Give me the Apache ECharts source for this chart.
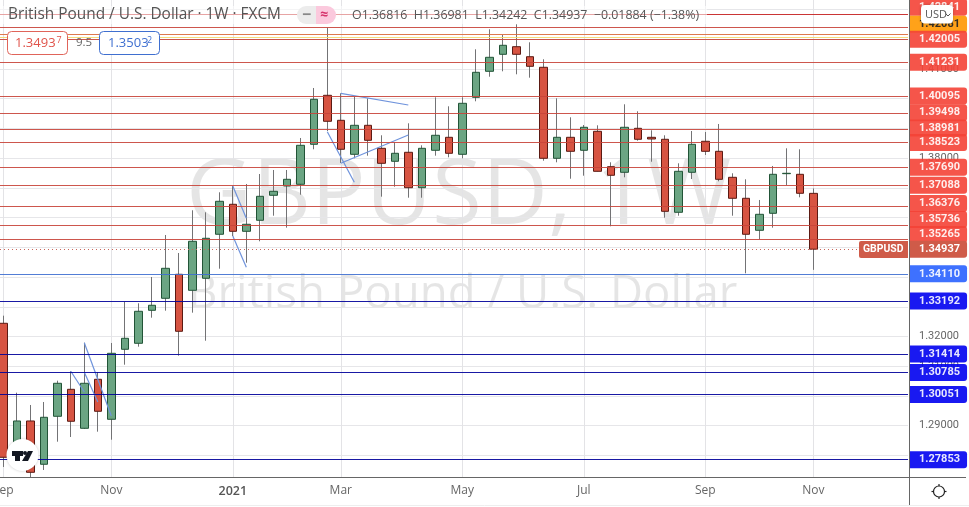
<!DOCTYPE html>
<html><head><meta charset="utf-8">
<style>html,body{margin:0;padding:0;background:#fff;overflow:hidden}#c{width:969px;height:507px}</style>
<script src="https://cdn.jsdelivr.net/npm/echarts@6/dist/echarts.min.js"></script>
</head><body><div id="c"></div>
<script>
const opens = [1.32444,1.27945,1.29157,1.27700,1.29315,1.30223,1.28911,1.30560,1.29214,1.31569,1.31771,1.32881,1.33285,1.34093,1.33554,1.33958,1.35439,1.36448,1.35539,1.35910,1.36751,1.37064,1.37121,1.38467,1.40115,1.39274,1.38130,1.39106,1.38332,1.37895,1.38198,1.37006,1.38265,1.38702,1.38130,1.40048,1.40923,1.41495,1.41751,1.41414,1.41058,1.37996,1.38702,1.38265,1.38904,1.37713,1.37525,1.39005,1.38702,1.38635,1.36179,1.37525,1.38568,1.38231,1.37356,1.36650,1.35573,1.36145,1.37478,1.37457,1.36816];
const closes = [1.27935,1.29157,1.27430,1.29281,1.30425,1.29147,1.30425,1.29483,1.31434,1.31939,1.32848,1.33050,1.34294,1.32175,1.35203,1.35304,1.36549,1.35539,1.35775,1.36717,1.36885,1.37289,1.38433,1.39981,1.39241,1.38299,1.39106,1.38601,1.37827,1.38164,1.37006,1.38332,1.38770,1.38164,1.39846,1.40889,1.41394,1.41798,1.41495,1.41091,1.37996,1.38702,1.38231,1.39039,1.37558,1.37424,1.39039,1.38635,1.38645,1.36212,1.37558,1.38467,1.38231,1.37289,1.36650,1.35439,1.36111,1.37457,1.37491,1.36818,1.34937];
const lows = [1.27609,1.27642,1.27272,1.27508,1.28460,1.28618,1.28890,1.28797,1.28527,1.31051,1.31657,1.32632,1.32868,1.31354,1.32801,1.31858,1.34281,1.35381,1.34483,1.35203,1.36064,1.35661,1.36771,1.38299,1.38914,1.37838,1.37996,1.38083,1.36704,1.37040,1.36670,1.36670,1.38083,1.38029,1.37996,1.39914,1.40741,1.40923,1.40822,1.40708,1.37915,1.37861,1.37309,1.37410,1.37558,1.35708,1.37356,1.38588,1.37881,1.35997,1.36064,1.37299,1.38107,1.37222,1.36064,1.34126,1.35270,1.35661,1.37097,1.36683,1.34242];
const highs = [1.32700,1.30109,1.29695,1.29796,1.30513,1.30829,1.31791,1.30805,1.31781,1.33171,1.33117,1.34002,1.35415,1.34809,1.36246,1.36179,1.36852,1.37064,1.37131,1.37467,1.37602,1.37602,1.38679,1.40361,1.42390,1.40183,1.40068,1.40014,1.38770,1.38534,1.39173,1.38433,1.40048,1.39745,1.40048,1.41663,1.42336,1.42144,1.42504,1.41899,1.41327,1.40014,1.39375,1.39116,1.39106,1.37861,1.39813,1.39577,1.38938,1.38770,1.37827,1.38914,1.38881,1.39150,1.37491,1.37289,1.36593,1.37737,1.38332,1.38299,1.36981];

const xTickLabels = {0:'Sep',8:'Nov',17:'2021',25:'Mar',34:'May',43:'Jul',52:'Sep',60:'Nov'};
const slotCount = 68;
const categories = Array.from({length:slotCount},(_,i)=>new Date(Date.UTC(2020,8,7+7*i)).toISOString().slice(0,10));

const priceTickLabels = ['1.41000','1.38000','1.32000','1.31000','1.29000'];
const redLevels = [1.42403,1.42154,1.42005,1.41231,1.40095,1.39498,1.38981,1.38523,1.37690,1.37088,1.36376,1.35736,1.35265];
const redLabelNudge = [0,0,0,0,0,-1,-1,0,0,0,-3,-6,-5];
const topRedLevel = 1.42841;
const orangeLevel = 1.42081;
const lightBlueLevels = [1.34110];
const navyLevels = [1.33192,1.31414,1.30785,1.30051,1.27853];
const lastPrice = 1.34937;

const trendLines = [
  [[5,1.30829],[6,1.30132]],
  [[6,1.31791],[8,1.29325]],
  [[6,1.30795],[7,1.29796]],
  [[17,1.37064],[18,1.35977]],
  [[17,1.35381],[18,1.34328]],
  [[24,1.38891],[26,1.37188]],
  [[25,1.40183],[30,1.39789]],
  [[25,1.37827],[30,1.38780]]
];

const UP='#6ba583',DOWN='#d75442',UPB='#225437',DOWNB='#5b1a13',WICK='#737375';
const FONT='"Open Sans",sans-serif';
const LABELFONT='Roboto,sans-serif';
const fix=v=>v.toFixed(5);
function lvl(v,bg,lineColor,offsetY,text,txtColor){
  return {yAxis:v,lineStyle:{color:lineColor,width:1,type:'solid',opacity:.9},
    label:{show:true,position:'end',distance:1,formatter:text||fix(v),color:txtColor||'#fff',
      fontFamily:LABELFONT,fontWeight:700,fontSize:11,backgroundColor:bg,
      padding:[2,7,2,10],lineHeight:13,borderRadius:[0,3,3,0],offset:[0,offsetY||0]}};
}
function levelSeries(data,z){
  return {type:'line',xAxisIndex:1,yAxisIndex:1,data:[],silent:true,z:z,
    markLine:{silent:true,symbol:'none',animation:false,precision:5,z:z,data:data}};
}
const RED='#f44336',REDLINE='#c8443a',NAVY='#0000f0',NAVYLINE='#00009a',LB='#2962ff';

const redData = redLevels.map((v,i)=>lvl(v,RED,REDLINE,redLabelNudge[i]));
redData[0].label.show=false;
redData[1].label.show=false;
redData[1].lineStyle.color='#dc6a3a';
const series=[
  {type:'candlestick',xAxisIndex:0,yAxisIndex:0,clip:false,barWidth:1,z:3,silent:true,animation:false,
   itemStyle:{color:WICK,color0:WICK,borderColor:WICK,borderColor0:WICK,borderWidth:1},
   data:opens.map((o,i)=>[o,closes[i],lows[i],highs[i]])},
  {type:'candlestick',xAxisIndex:0,yAxisIndex:0,clip:false,barWidth:8,z:4,silent:true,animation:false,
   itemStyle:{color:UP,color0:DOWN,borderColor:UPB,borderColor0:DOWNB,borderWidth:1},
   data:opens.map((o,i)=>[o,closes[i],Math.min(o,closes[i]),Math.max(o,closes[i])])},
  ...trendLines.map(t=>({type:'line',xAxisIndex:0,yAxisIndex:0,data:t,symbol:'none',silent:true,z:5,animation:false,
    lineStyle:{color:'#6f93dc',width:1.2}})),
  levelSeries([lvl(topRedLevel,RED,'#c41f1f',-7)],6),
  levelSeries([lvl(orangeLevel,'#ff9800','#f5d76e',-12.5,null,'#222')],7),
  levelSeries(redData,8),
  levelSeries(lightBlueLevels.map(v=>lvl(v,LB,'#3f6fd0')),6),
  levelSeries(navyLevels.map(v=>lvl(v,NAVY,NAVYLINE)),6),
  {type:'line',xAxisIndex:1,yAxisIndex:1,data:[],silent:true,z:9,
    markLine:{silent:true,symbol:'none',animation:false,precision:5,z:9,data:[
      {yAxis:lastPrice,lineStyle:{color:'#c9655a',width:1,type:[1,3]},
       label:{show:true,position:'end',distance:1,formatter:fix(lastPrice),color:'#fff',fontFamily:LABELFONT,fontWeight:700,fontSize:11,
       backgroundColor:'#cf5b49',padding:[2,7,2,10],lineHeight:13,borderRadius:[0,3,3,0]}}]}}
];

const T=(text,x,y,font,fill,extra)=>({type:'text',z:extra&&extra.z!==undefined?extra.z:62,silent:true,
  style:Object.assign({text,x,y,font,fill,verticalAlign:'middle',align:'left'},extra||{})});
const graphic=[
  T('GBPUSD, 1W',186,198,'400 91px '+FONT,'rgba(0,0,0,0.10)',{z:0}),
  T('British Pound / U.S. Dollar',188,295,'400 45.6px '+FONT,'rgba(0,0,0,0.10)',{z:0}),
  {type:'rect',z:59,silent:true,shape:{x:0,y:6,width:707,height:18},style:{fill:'rgba(255,255,255,0.55)'}},
  T('British Pound / U.S. Dollar · 1W · FXCM',8,15,'400 15.4px '+FONT,'#555'),
  {type:'rect',z:60,silent:true,shape:{x:297,y:6,width:26,height:18,r:[9,0,0,9]},style:{fill:'#ececec'}},
  {type:'rect',z:60,silent:true,shape:{x:316,y:6,width:20,height:18,r:[0,9,9,0]},style:{fill:'#fbc9dd'}},
  T('−',302,15,'700 16px '+FONT,'#888'),
  T('≈',320,15,'700 14px '+FONT,'#d6336c'),
  T('O1.36816  H1.36981  L1.34242  C1.34937  −0.01884 (−1.38%)',352,15,'400 12.4px '+FONT,'#555'),
  {type:'rect',z:60,silent:true,shape:{x:7.5,y:31.5,width:60,height:23,r:4},style:{fill:'#fff',stroke:'#e0645a',lineWidth:1}},
  T('1.3493',15,43,'400 13px '+FONT,'#e0534a'),
  T('7',56.5,40.5,'400 9px '+FONT,'#e0534a'),
  T('9.5',76,43,'400 11.5px '+FONT,'#666'),
  {type:'rect',z:60,silent:true,shape:{x:99.5,y:31.5,width:60,height:23,r:4},style:{fill:'#fff',stroke:'#3f6fd0',lineWidth:1}},
  T('1.3503',108,43,'400 13px '+FONT,'#3f6fd0'),
  T('2',147,40.5,'400 9px '+FONT,'#3f6fd0'),
  {type:'rect',z:120,silent:true,shape:{x:859,y:241,width:49,height:17,r:[2,0,0,2]},style:{fill:'#cf5b49'}},
  T('GBPUSD',863,249.5,'700 10.4px '+LABELFONT,'#fff',{z:121}),
  {type:'line',z:50,silent:true,shape:{x1:0,y1:477.5,x2:966,y2:477.5},style:{stroke:'#666',lineWidth:1}},
  {type:'line',z:50,silent:true,shape:{x1:909.5,y1:0,x2:909.5,y2:505},style:{stroke:'#666',lineWidth:1}},
  {type:'line',z:50,silent:true,shape:{x1:0,y1:505.5,x2:969,y2:505.5},style:{stroke:'#eeeeee',lineWidth:1}},
  {type:'rect',z:130,silent:true,shape:{x:921,y:5,width:32,height:18.5,r:4},style:{fill:'#fff',shadowBlur:3,shadowColor:'rgba(0,0,0,.25)'}},
  T('USD',925,14.5,'400 11px '+FONT,'#555',{z:131}),
  {type:'polyline',z:131,silent:true,shape:{points:[[945.5,13.5],[948,16],[950.5,13.5]]},style:{stroke:'#555',fill:null,lineWidth:1}},
  {type:'circle',z:60,silent:true,shape:{cx:939,cy:491.5,r:5.5},style:{fill:'#fff',stroke:'#222',lineWidth:1.2}},
  ...[[939,484,939,486],[939,497,939,499],[931.5,491.5,933.5,491.5],[944.5,491.5,946.5,491.5]].map(p=>({type:'line',z:60,silent:true,shape:{x1:p[0],y1:p[1],x2:p[2],y2:p[3]},style:{stroke:'#222',lineWidth:1.2}})),
  {type:'circle',z:60,silent:true,shape:{cx:22.5,cy:455,r:16},style:{fill:'#fff',shadowBlur:3,shadowColor:'rgba(0,0,0,.2)'}},
  {type:'polygon',z:61,silent:true,shape:{points:[[12,451],[23,451],[23,456],[20,456],[20,461],[15,461],[15,456],[12,456]]},style:{fill:'#131722'}},
  {type:'circle',z:61,silent:true,shape:{cx:25,cy:453,r:2},style:{fill:'#131722'}},
  {type:'polygon',z:61,silent:true,shape:{points:[[28,451],[33,451],[28,461],[22,461]]},style:{fill:'#131722'}}
];

const chart=echarts.init(document.getElementById('c'),null,{renderer:'canvas'});
chart.setOption({
  animation:false,backgroundColor:'#ffffff',
  grid:[
    {left:3.3,top:0,width:904.5,height:477,outerBoundsMode:'none'},
    {left:0,top:-20.16,width:908,height:505.24,outerBoundsMode:'none'}
  ],
  xAxis:[
    {type:'category',gridIndex:0,data:categories,boundaryGap:false,containShape:false,
     axisLine:{show:false},axisTick:{show:false},
     axisLabel:{margin:8,interval:(i)=>xTickLabels[i]!==undefined,color:'#666',fontFamily:FONT,fontSize:12,hideOverlap:false,
       showMinLabel:true,
       formatter:(v,i)=>{const s=xTickLabels[i]||'';return s==='2021'?'{y|2021}':s;},
       rich:{y:{color:'#555',fontWeight:600,fontFamily:FONT,fontSize:12.5}}},
     splitLine:{show:true,interval:(i)=>xTickLabels[i]!==undefined,lineStyle:{color:'#e3e3e6',width:1}}},
    {type:'value',gridIndex:1,min:0,max:1,show:false}
  ],
  yAxis:[
    {type:'value',gridIndex:0,min:1.27272,max:1.43322,show:false,scale:true},
    {type:'value',gridIndex:1,min:1.27,max:1.44,interval:0.01,position:'right',
     axisLine:{show:false},axisTick:{show:false},
     axisLabel:{margin:11,color:'#666',fontFamily:LABELFONT,fontSize:11,showMinLabel:false,showMaxLabel:false,
       formatter:v=>{const s=v.toFixed(5);return priceTickLabels.includes(s)?s:'';}},
     splitLine:{show:true,showMinLine:false,showMaxLine:false,lineStyle:{color:'#e6e6e9',width:1}}}
  ],
  series:series,
  graphic:graphic
});
</script></body></html>
